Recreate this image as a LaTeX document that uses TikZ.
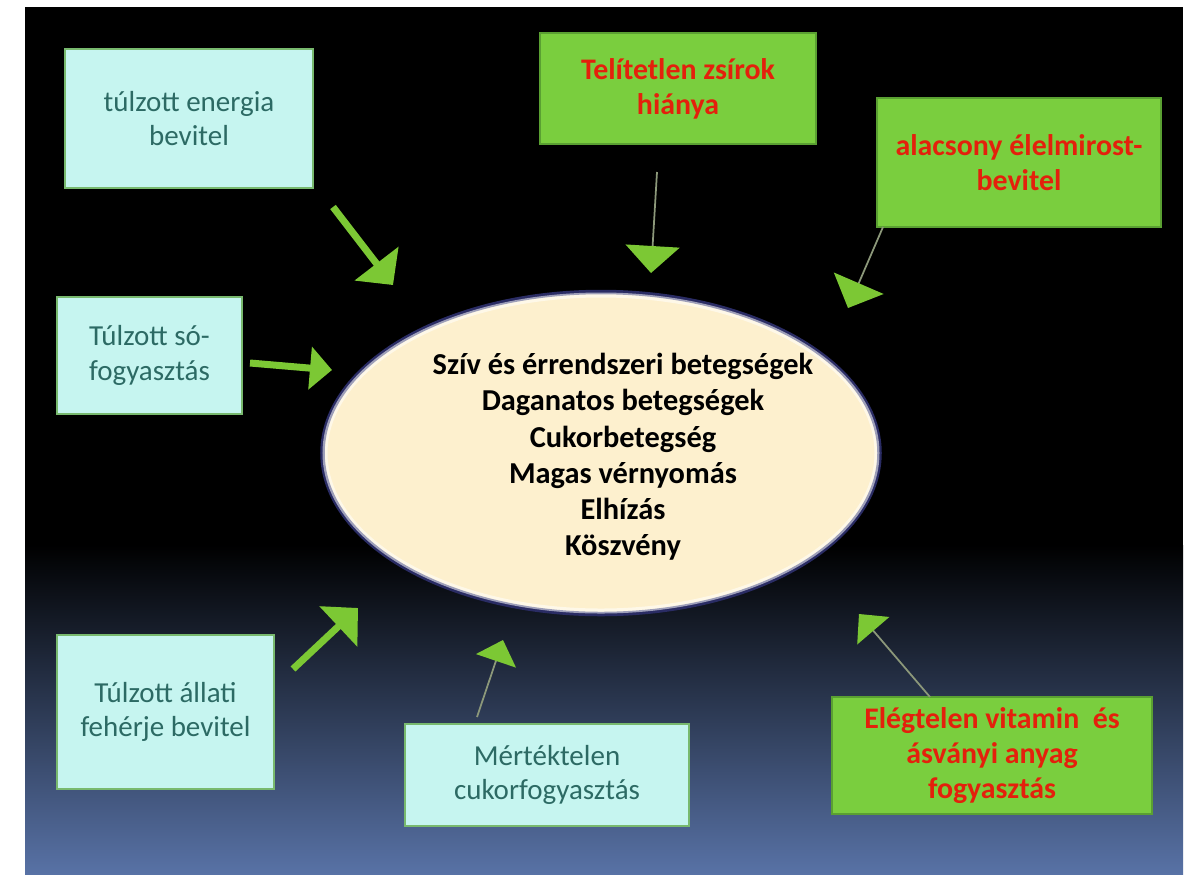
\documentclass[tikz,border=0pt]{standalone}
\usepackage{fontspec}
\setmainfont{Carlito}
\usetikzlibrary{shapes.geometric,arrows.meta}

\definecolor{bgblue}{RGB}{88,114,166}
\definecolor{cyanfill}{RGB}{198,245,240}
\definecolor{cyanedge}{RGB}{120,185,110}
\definecolor{tealtext}{RGB}{44,106,100}
\definecolor{greenfill}{RGB}{122,206,62}
\definecolor{greenedge}{RGB}{90,160,50}
\definecolor{redtext}{RGB}{228,32,12}
\definecolor{arrowgreen}{RGB}{124,200,52}
\definecolor{linegray}{RGB}{140,152,122}
\definecolor{cream}{RGB}{253,240,206}
\definecolor{ringnavy}{RGB}{42,44,100}

\tikzset{
  cause/.style={draw=cyanedge, line width=0.3mm, fill=cyanfill, text=tealtext,
    font=\fontsize{16.5}{19.5}\selectfont, align=center, inner sep=0pt},
  lack/.style={draw=greenedge, line width=0.3mm, fill=greenfill, text=redtext,
    font=\fontsize{17}{20}\selectfont\bfseries, align=center, inner sep=0pt},
  disease/.style={ellipse, draw=ringnavy, line width=0.9mm, fill=cream, inner sep=0pt},
  diseasetext/.style={font=\fontsize{17.3}{20.6}\selectfont\bfseries, align=center},
  fat/.style={draw=arrowgreen, line width=1.4mm},
  slim/.style={draw=linegray, line width=0.35mm},
  headbig/.style={-{Triangle[length=5.4mm,width=10.8mm,color=arrowgreen]}},
  headsmall/.style={-{Triangle[length=4.4mm,width=8.4mm,color=arrowgreen]}},
}

\begin{document}
\begin{tikzpicture}[x=0.2mm,y=-0.2mm]
\useasboundingbox (0,0) rectangle (1192,874);
\fill[white] (0,0) rectangle (1192,874);
% background
\fill[black] (25,7) rectangle (1183,874);
\shade[top color=black, bottom color=bgblue] (25,545) rectangle (1183,874);

% centre
\node[disease, minimum width=111.4mm, minimum height=64.4mm] (ill) at (601,453) {};
\draw[white, line width=1mm, opacity=0.55] (ill.center) ellipse [x radius=55.2mm, y radius=31.6mm];
\node[diseasetext] (illtext) at (623,457)
  {Szív és érrendszeri betegségek\\Daganatos betegségek\\Cukorbetegség\\Magas vérnyomás\\Elhízás\\Köszvény};

% causes
\node[cause, minimum width=49.6mm, minimum height=27.8mm] (energy) at (189,118.5) {túlzott energia\\bevitel};
\node[cause, minimum width=37mm, minimum height=23.4mm] (salt) at (149.5,355.5) {Túlzott só-\\fogyasztás};
\node[cause, minimum width=43.4mm, minimum height=30.8mm] (protein) at (165.5,712) {Túlzott állati\\fehérje bevitel};
\node[cause, minimum width=56.8mm, minimum height=20.4mm] (sugar) at (547,775) {Mértéktelen\\cukorfogyasztás};
\node[lack, minimum width=55.2mm, minimum height=22.2mm] (fats) at (678,88.5) {Telítetlen zsírok\\hiánya};
\node[lack, minimum width=56.8mm, minimum height=25.8mm] (fibre) at (1019,162.5) {alacsony élelmirost-\\bevitel};
\node[lack, minimum width=64mm, minimum height=23.4mm] (vitamin) at (992,755.5) {Elégtelen vitamin\ \ és\\ásványi anyag\\fogyasztás};

% arrows
\coordinate (energyA) at (333,207);  \coordinate (energyB) at (393,285);
\coordinate (saltA) at (250,363);    \coordinate (saltB) at (332,370);
\coordinate (proteinA) at (293,669); \coordinate (proteinB) at (358,608);
\coordinate (sugarA) at (477,717);   \coordinate (sugarB) at (503,640);
\coordinate (fatsA) at (657,172);    \coordinate (fatsB) at (651,273);
\coordinate (fibreA) at (883,227);   \coordinate (fibreB) at (848,308);
\coordinate (vitaminA) at (930,697); \coordinate (vitaminB) at (859,614);

\draw[fat, headbig] (energyA) -- (energyB);
\draw[fat, headsmall] (saltA) -- (saltB);
\draw[fat, headbig] (proteinA) -- (proteinB);
\draw[slim, headsmall] (sugarA) -- (sugarB);
\draw[slim, headbig] (fatsA) -- (fatsB);
\draw[slim, headbig] (fibreA) -- (fibreB);
\draw[slim, headsmall] (vitaminA) -- (vitaminB);
\end{tikzpicture}
\end{document}
